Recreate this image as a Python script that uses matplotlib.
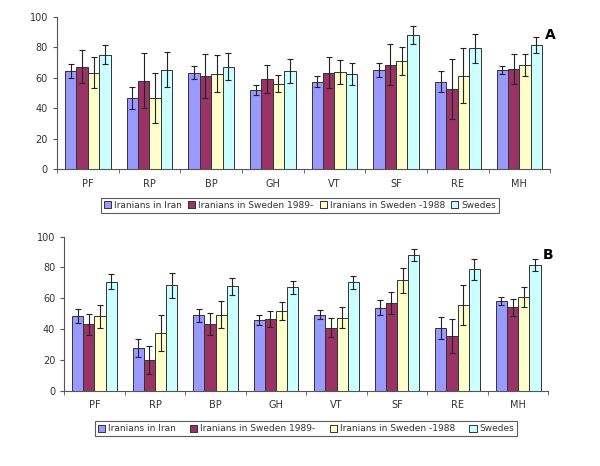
import matplotlib.pyplot as plt
import numpy as np

categories = ["PF", "RP", "BP", "GH", "VT", "SF", "RE", "MH"]
groups = ["Iranians in Iran", "Iranians in Sweden 1989-",
          "Iranians in Sweden -1988", "Swedes"]
colors = ["#9999FF", "#993366", "#FFFFCC", "#CCFFFF"]

# panel A: means per group
a_iran = [64.5, 46.8, 63.4, 51.9, 57.5, 64.9, 57.5, 64.9]
a_swe89 = [67.3, 58.0, 61.2, 59.3, 63.4, 68.6, 52.7, 66.0]
a_swe88 = [63.4, 46.8, 62.5, 56.0, 63.8, 71.0, 61.2, 68.4]
a_swedes = [75.2, 65.4, 67.3, 64.5, 62.5, 88.0, 79.3, 81.5]
a_iran_err = [4.5, 7.1, 4.5, 3.5, 3.5, 4.6, 7.0, 2.6]
a_swe89_err = [10.6, 18.0, 14.2, 9.0, 10.0, 13.6, 19.8, 9.9]
a_swe88_err = [10.1, 16.4, 12.1, 5.5, 7.6, 9.4, 18.1, 7.4]
a_swedes_err = [6.4, 11.3, 9.0, 7.7, 7.4, 6.1, 9.5, 5.2]

# panel B
b_iran = [48.3, 27.5, 48.9, 45.7, 49.4, 53.9, 40.9, 58.2]
b_swe89 = [43.1, 19.9, 43.1, 46.3, 40.9, 56.7, 35.3, 54.1]
b_swe88 = [48.3, 37.2, 49.4, 51.9, 47.4, 71.6, 55.8, 60.8]
b_swedes = [70.8, 68.4, 67.7, 67.1, 70.3, 87.9, 78.8, 81.6]
b_iran_err = [4.4, 5.7, 4.4, 3.2, 3.0, 4.8, 7.2, 2.6]
b_swe89_err = [6.7, 9.0, 7.3, 5.3, 6.2, 7.2, 10.9, 5.7]
b_swe88_err = [7.6, 11.8, 8.9, 5.8, 6.8, 8.0, 13.1, 6.6]
b_swedes_err = [4.9, 8.3, 5.5, 4.4, 4.4, 3.8, 6.8, 3.6]

panels = [
    ("A", [a_iran, a_swe89, a_swe88, a_swedes],
     [a_iran_err, a_swe89_err, a_swe88_err, a_swedes_err]),
    ("B", [b_iran, b_swe89, b_swe88, b_swedes],
     [b_iran_err, b_swe89_err, b_swe88_err, b_swedes_err]),
]

fig = plt.figure(figsize=(6, 4.66), dpi=100)
axes_rects = [[0.095, 0.637, 0.822, 0.327], [0.107, 0.162, 0.807, 0.330]]
legend_pos = [(0.5, 0.559, 0.7), (0.51, 0.080, 1.6)]
text_col = "#333333"

x = np.arange(len(categories))
w = 0.185
for (tag, series, errs), rect, (lx, ly, cs) in zip(panels, axes_rects, legend_pos):
    ax = fig.add_axes(rect)
    for i, (vals, err) in enumerate(zip(series, errs)):
        ax.bar(x + (i - 1.5) * w, vals, w, color=colors[i], edgecolor="#333333",
               linewidth=0.7, label=groups[i],
               yerr=err, error_kw=dict(ecolor="#222222", elinewidth=0.8,
                                       capsize=2.2, capthick=0.8))
    ax.set_xlim(-0.5, 7.5)
    ax.set_ylim(0, 100)
    ax.set_yticks(range(0, 101, 20))
    ax.set_xticks(x)
    ax.set_xticklabels(categories)
    ax.set_xticks(np.arange(-0.5, 8, 1), minor=True)
    ax.tick_params(axis="x", which="major", length=0, pad=7,
                   labelsize=7, colors=text_col)
    ax.tick_params(axis="x", which="minor", length=3, color="#555555")
    ax.tick_params(axis="y", length=3, labelsize=7, colors=text_col, color="#555555")
    for s in ["top", "right"]:
        ax.spines[s].set_visible(False)
    for s in ["left", "bottom"]:
        ax.spines[s].set_color("#555555")
        ax.spines[s].set_linewidth(0.8)
    ax.text(1.0, 0.88, tag, transform=ax.transAxes, fontsize=10,
            fontweight="bold", ha="center", va="center")
    leg = ax.legend(loc="center", bbox_to_anchor=(lx, ly),
                    bbox_transform=fig.transFigure, ncol=4,
                    fontsize=6.5, frameon=True, fancybox=False,
                    handlelength=0.8, handleheight=0.8, handletextpad=0.3,
                    columnspacing=cs, borderpad=0.35)
    leg.get_frame().set_edgecolor("#333333")
    leg.get_frame().set_linewidth(0.8)
    for t in leg.get_texts():
        t.set_color(text_col)

fig.savefig("out.png", dpi=100)
